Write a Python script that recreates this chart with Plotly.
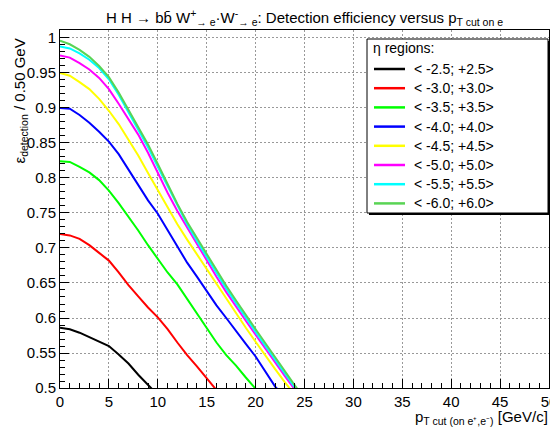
import plotly.graph_objects as go

# ---- data ----
regions = ["< -2.5; +2.5>", "< -3.0; +3.0>", "< -3.5; +3.5>", "< -4.0; +4.0>",
           "< -4.5; +4.5>", "< -5.0; +5.0>", "< -5.5; +5.5>", "< -6.0; +6.0>"]
colors = ["#000000", "#ff0000", "#00ff00", "#0000ff",
          "#ffff00", "#ff00ff", "#00ffff", "#59d454"]

pt_black = [0, 1, 2, 3, 4, 5, 6, 7, 8, 9, 9.3, 10]
eff_black = [0.586, 0.584, 0.579, 0.573, 0.567, 0.560, 0.548, 0.535, 0.519, 0.504, 0.500, 0.490]

pt_red = [0, 1, 2, 3, 4, 5, 6, 7, 8, 9, 10, 11, 12, 13, 14, 15, 16]
eff_red = [0.720, 0.718, 0.713, 0.704, 0.693, 0.682, 0.665, 0.647, 0.631, 0.615,
           0.601, 0.584, 0.565, 0.547, 0.531, 0.514, 0.497]

pt_green35 = [0, 1, 2, 3, 4, 5, 6, 7, 8, 9, 10, 11, 12, 13, 14, 15, 16, 17, 18, 19, 20]
eff_green35 = [0.824, 0.823, 0.816, 0.808, 0.797, 0.782, 0.764, 0.745, 0.725, 0.704,
               0.685, 0.665, 0.648, 0.627, 0.607, 0.585, 0.565, 0.547, 0.532, 0.515, 0.499]

pt_blue = [0, 1, 2, 3, 4, 5, 6, 7, 8, 9, 10, 11, 12, 13, 14, 15, 16, 17, 18, 19, 20, 21, 22, 22.5]
eff_blue = [0.900, 0.899, 0.890, 0.879, 0.866, 0.852, 0.834, 0.812, 0.790, 0.768,
            0.749, 0.726, 0.701, 0.679, 0.659, 0.638, 0.618, 0.600, 0.581, 0.563,
            0.545, 0.524, 0.502, 0.494]

pt_yellow = [0, 1, 2, 3, 4, 5, 6, 7, 8, 9, 10, 11, 12, 13, 14, 15, 16, 17, 18, 19, 20, 21, 22, 23, 23.8]
eff_yellow = [0.950, 0.946, 0.937, 0.927, 0.913, 0.896, 0.877, 0.855, 0.832, 0.807,
              0.783, 0.757, 0.734, 0.712, 0.691, 0.670, 0.648, 0.628, 0.606, 0.586,
              0.566, 0.546, 0.527, 0.508, 0.494]

pt_magenta = [0, 1, 2, 3, 4, 5, 6, 7, 8, 9, 10, 11, 12, 13, 14, 15, 16, 17, 18, 19, 20, 21, 22, 23, 24]
eff_magenta = [0.975, 0.972, 0.964, 0.955, 0.943, 0.927, 0.906, 0.884, 0.862, 0.836,
               0.807, 0.779, 0.753, 0.729, 0.706, 0.682, 0.659, 0.637, 0.616, 0.596,
               0.576, 0.556, 0.537, 0.517, 0.498]

pt_cyan = [0, 1, 2, 3, 4, 5, 6, 7, 8, 9, 10, 11, 12, 13, 14, 15, 16, 17, 18, 19, 20, 21, 22, 23, 24, 24.3]
eff_cyan = [0.988, 0.985, 0.978, 0.969, 0.957, 0.941, 0.919, 0.894, 0.869, 0.844,
            0.816, 0.788, 0.760, 0.734, 0.710, 0.687, 0.664, 0.642, 0.621, 0.600,
            0.580, 0.560, 0.540, 0.520, 0.500, 0.495]

pt_green60 = [0, 1, 2, 3, 4, 5, 6, 7, 8, 9, 10, 11, 12, 13, 14, 15, 16, 17, 18, 19, 20, 21, 22, 23, 24, 24.5]
eff_green60 = [0.996, 0.991, 0.983, 0.973, 0.960, 0.944, 0.922, 0.897, 0.872, 0.848,
               0.820, 0.791, 0.763, 0.737, 0.714, 0.691, 0.668, 0.646, 0.625, 0.604,
               0.584, 0.564, 0.544, 0.524, 0.504, 0.494]

x_ticks = [0, 5, 10, 15, 20, 25, 30, 35, 40, 45, 50]
x_ticklabels = ["0", "5", "10", "15", "20", "25", "30", "35", "40", "45", "50"]
y_ticks = [0.5, 0.55, 0.6, 0.65, 0.7, 0.75, 0.8, 0.85, 0.9, 0.95, 1.0]
y_ticklabels = ["0.5", "0.55", "0.6", "0.65", "0.7", "0.75", "0.8", "0.85", "0.9", "0.95", "1"]

series_x = [pt_black, pt_red, pt_green35, pt_blue, pt_yellow, pt_magenta, pt_cyan, pt_green60]
series_y = [eff_black, eff_red, eff_green35, eff_blue, eff_yellow, eff_magenta, eff_cyan, eff_green60]

FONT = "Liberation Sans, Arial, Helvetica, sans-serif"

fig = go.Figure()
for name, col, xs, ys in zip(regions, colors, series_x, series_y):
    fig.add_trace(go.Scatter(x=xs, y=ys, mode="lines", name=name, showlegend=False,
                             line=dict(color=col, width=2)))

# page body has an 8px margin: figure is drawn 8px right/down in the window
OFF = 8
W, H = 550, 422
L, T = 60 - OFF, 30 - OFF
R = W - (549 - OFF)
B = H - (388 - OFF)
pw, ph = W - L - R, H - T - B


def px(ox):  # screen x -> paper x
    return (ox - OFF - L) / pw


def py(oy):  # screen y -> paper y
    return (H - B - (oy - OFF)) / ph


# legend box with shadow
lx0, lx1, ly0, ly1 = 367, 548, 39, 213
fig.add_shape(type="rect", xref="paper", yref="paper",
              x0=px(lx0 + 2), x1=px(lx1 + 2), y0=py(ly1 + 2), y1=py(ly0 + 2),
              fillcolor="black", line=dict(width=0), layer="above")
fig.add_shape(type="rect", xref="paper", yref="paper",
              x0=px(lx0), x1=px(lx1), y0=py(ly1), y1=py(ly0),
              fillcolor="white", line=dict(color="black", width=1), layer="above")

annotations = [
    dict(text="η regions:", xref="paper", yref="paper", x=px(371), y=py(48),
         xanchor="left", yanchor="middle", showarrow=False,
         font=dict(family=FONT, size=14, color="black")),
]
row_y0, row_dy = 69, 19.2
for i, (name, col) in enumerate(zip(regions, colors)):
    yy = row_y0 + i * row_dy
    fig.add_shape(type="line", xref="paper", yref="paper",
                  x0=px(374), x1=px(405), y0=py(yy), y1=py(yy),
                  line=dict(color=col, width=2.5), layer="above")
    annotations.append(dict(text=name, xref="paper", yref="paper", x=px(412), y=py(yy),
                            xanchor="left", yanchor="middle", showarrow=False,
                            font=dict(family=FONT, size=14, color="black")))

annotations += [
    dict(text="ε<sub>detection</sub> / 0.50 GeV", textangle=-90,
         xref="paper", yref="paper", x=px(20), y=py(37),
         xanchor="center", yanchor="top", showarrow=False,
         font=dict(family=FONT, size=15, color="black")),
    dict(text="p<sub>T cut (on e⁺,e⁻)</sub> [GeV/c]",
         xref="paper", yref="paper", x=px(550), y=py(417),
         xanchor="right", yanchor="middle", showarrow=False,
         font=dict(family=FONT, size=15, color="black")),
]

axis_common = dict(
    showline=True, linecolor="black", linewidth=1, mirror=True,
    ticks="inside", tickcolor="black", ticklen=9, tickwidth=1,
    showgrid=True, gridcolor="#999999", gridwidth=1, griddash="2px,2px",
    zeroline=False, tickfont=dict(family=FONT, size=15, color="black"),
    ticklabeloverflow="allow",
)

fig.update_layout(
    width=W, height=H,
    margin=dict(l=L, r=R, t=T, b=B, autoexpand=False),
    paper_bgcolor="white", plot_bgcolor="white",
    font=dict(family=FONT, color="black"),
    title=dict(
        text="H H → bb\u0304 W<sup>+</sup><sub>→ e</sub>·W<sup>-</sup><sub>→ e</sub>: Detection efficiency versus p<sub>T cut on e</sub>",
        xref="paper", x=0.5, xanchor="center",
        yref="container", y=1 - (18 - OFF) / H, yanchor="middle",
        font=dict(family=FONT, size=15, color="black"),
    ),
    xaxis=dict(range=[0, 50], tickvals=x_ticks, ticktext=x_ticklabels,
               minor=dict(ticks="inside", ticklen=5, tickcolor="black", dtick=1, tick0=0, showgrid=False),
               **axis_common),
    yaxis=dict(range=[0.5, 1.0114], tickvals=y_ticks, ticktext=y_ticklabels,
               minor=dict(ticks="inside", ticklen=5, tickcolor="black", dtick=0.01, tick0=0.5, showgrid=False),
               **axis_common),
    showlegend=False,
    annotations=annotations,
)

fig.write_html("out.html")
